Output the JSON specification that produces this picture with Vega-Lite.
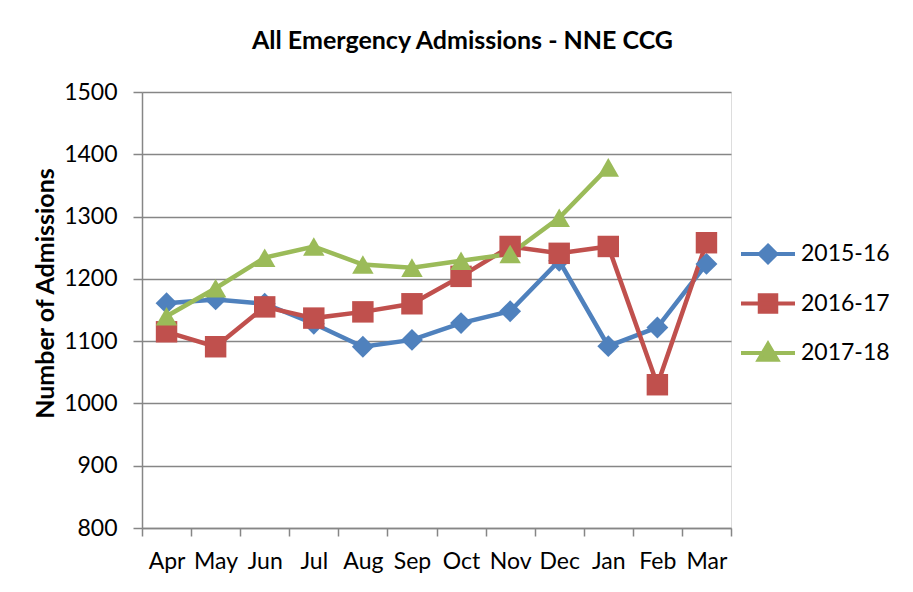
{
  "$schema": "https://vega.github.io/schema/vega-lite/v6.json",
  "autosize": "none",
  "width": 589,
  "height": 436,
  "padding": {"left": 142, "top": 92, "right": 182, "bottom": 64},
  "background": "white",
  "title": {
    "text": "All Emergency Admissions - NNE CCG",
    "font": "Lato",
    "fontSize": 25,
    "fontWeight": "bold",
    "color": "black",
    "anchor": "middle",
    "dx": 26,
    "offset": 27
  },
  "data": {
    "values": [
      {"month": "Apr", "series": "2015-16", "value": 1161},
      {"month": "May", "series": "2015-16", "value": 1167},
      {"month": "Jun", "series": "2015-16", "value": 1160},
      {"month": "Jul", "series": "2015-16", "value": 1128},
      {"month": "Aug", "series": "2015-16", "value": 1091},
      {"month": "Sep", "series": "2015-16", "value": 1102},
      {"month": "Oct", "series": "2015-16", "value": 1129},
      {"month": "Nov", "series": "2015-16", "value": 1148},
      {"month": "Dec", "series": "2015-16", "value": 1229},
      {"month": "Jan", "series": "2015-16", "value": 1092},
      {"month": "Feb", "series": "2015-16", "value": 1122},
      {"month": "Mar", "series": "2015-16", "value": 1224},
      {"month": "Apr", "series": "2016-17", "value": 1115},
      {"month": "May", "series": "2016-17", "value": 1091},
      {"month": "Jun", "series": "2016-17", "value": 1155},
      {"month": "Jul", "series": "2016-17", "value": 1137},
      {"month": "Aug", "series": "2016-17", "value": 1147},
      {"month": "Sep", "series": "2016-17", "value": 1160},
      {"month": "Oct", "series": "2016-17", "value": 1204},
      {"month": "Nov", "series": "2016-17", "value": 1252},
      {"month": "Dec", "series": "2016-17", "value": 1241},
      {"month": "Jan", "series": "2016-17", "value": 1252},
      {"month": "Feb", "series": "2016-17", "value": 1030},
      {"month": "Mar", "series": "2016-17", "value": 1258},
      {"month": "Apr", "series": "2017-18", "value": 1140},
      {"month": "May", "series": "2017-18", "value": 1185},
      {"month": "Jun", "series": "2017-18", "value": 1234},
      {"month": "Jul", "series": "2017-18", "value": 1252},
      {"month": "Aug", "series": "2017-18", "value": 1223},
      {"month": "Sep", "series": "2017-18", "value": 1218},
      {"month": "Oct", "series": "2017-18", "value": 1229},
      {"month": "Nov", "series": "2017-18", "value": 1240},
      {"month": "Dec", "series": "2017-18", "value": 1298},
      {"month": "Jan", "series": "2017-18", "value": 1379}
    ]
  },
  "encoding": {
    "x": {
      "field": "month",
      "type": "nominal",
      "sort": ["Apr","May","Jun","Jul","Aug","Sep","Oct","Nov","Dec","Jan","Feb","Mar"],
      "scale": {"paddingInner": 0, "paddingOuter": 0},
      "axis": {
        "title": null,
        "labelAngle": 0,
        "tickBand": "extent",
        "tickSize": 8,
        "tickColor": "#868686",
        "tickWidth": 1.5,
        "domainColor": "#868686",
        "domainWidth": 1.5,
        "labelFont": "Lato",
        "labelFontSize": 23,
        "labelColor": "black",
        "labelPadding": 14,
        "grid": false
      }
    },
    "y": {
      "field": "value",
      "type": "quantitative",
      "scale": {"domain": [800, 1500], "nice": false, "zero": false},
      "axis": {
        "title": "Number of Admissions",
        "titleFont": "Lato",
        "titleFontSize": 25,
        "titleFontWeight": "bold",
        "titleColor": "black",
        "titleX": -97,
        "titleY": 201,
        "titleAlign": "center",
        "titleBaseline": "middle",
        "titleAngle": -90,
        "values": [800, 900, 1000, 1100, 1200, 1300, 1400, 1500],
        "format": "d",
        "tickSize": 9,
        "tickColor": "#868686",
        "tickWidth": 1.5,
        "domainColor": "#868686",
        "domainWidth": 1.5,
        "gridColor": "#868686",
        "gridWidth": 1.5,
        "grid": true,
        "labelFont": "Lato",
        "labelFontSize": 23,
        "labelColor": "black",
        "labelPadding": 16
      }
    },
    "color": {
      "field": "series",
      "type": "nominal",
      "scale": {"domain": ["2015-16", "2016-17", "2017-18"], "range": ["#4F81BD", "#C0504D", "#9BBB59"]},
      "legend": {
        "title": null,
        "orient": "none",
        "legendX": 609,
        "legendY": 145,
        "labelFont": "Lato",
        "labelFontSize": 23,
        "labelColor": "black",
        "symbolSize": 900,
        "symbolStrokeWidth": 4,
        "symbolOpacity": 1,
        "rowPadding": 15.5,
        "labelOffset": 16,
        "encode": {
          "symbols": {
            "update": {
              "shape": {"signal": "datum.value === '2015-16' ? 'M-1.8,0H1.8M0,-0.55L0.55,0L0,0.55L-0.55,0Z' : datum.value === '2016-17' ? 'M-1.8,0H1.8M-0.55,-0.55H0.55V0.55H-0.55Z' : 'M-1.8,0H1.8M0,-0.6L0.62,0.45H-0.62Z'"},
              "strokeWidth": {"value": 4}
            }
          }
        }
      }
    }
  },
  "layer": [
    {
      "mark": {"type": "line", "strokeWidth": 4.5}
    },
    {
      "transform": [{"filter": "datum.series === '2015-16'"}],
      "mark": {"type": "point", "filled": true, "opacity": 1, "size": 480, "shape": "diamond"}
    },
    {
      "transform": [{"filter": "datum.series === '2016-17'"}],
      "mark": {"type": "point", "filled": true, "opacity": 1, "size": 460, "shape": "square"}
    },
    {
      "transform": [{"filter": "datum.series === '2017-18'"}],
      "mark": {"type": "point", "filled": true, "opacity": 1, "size": 460, "shape": "triangle-up"}
    }
  ]
}
